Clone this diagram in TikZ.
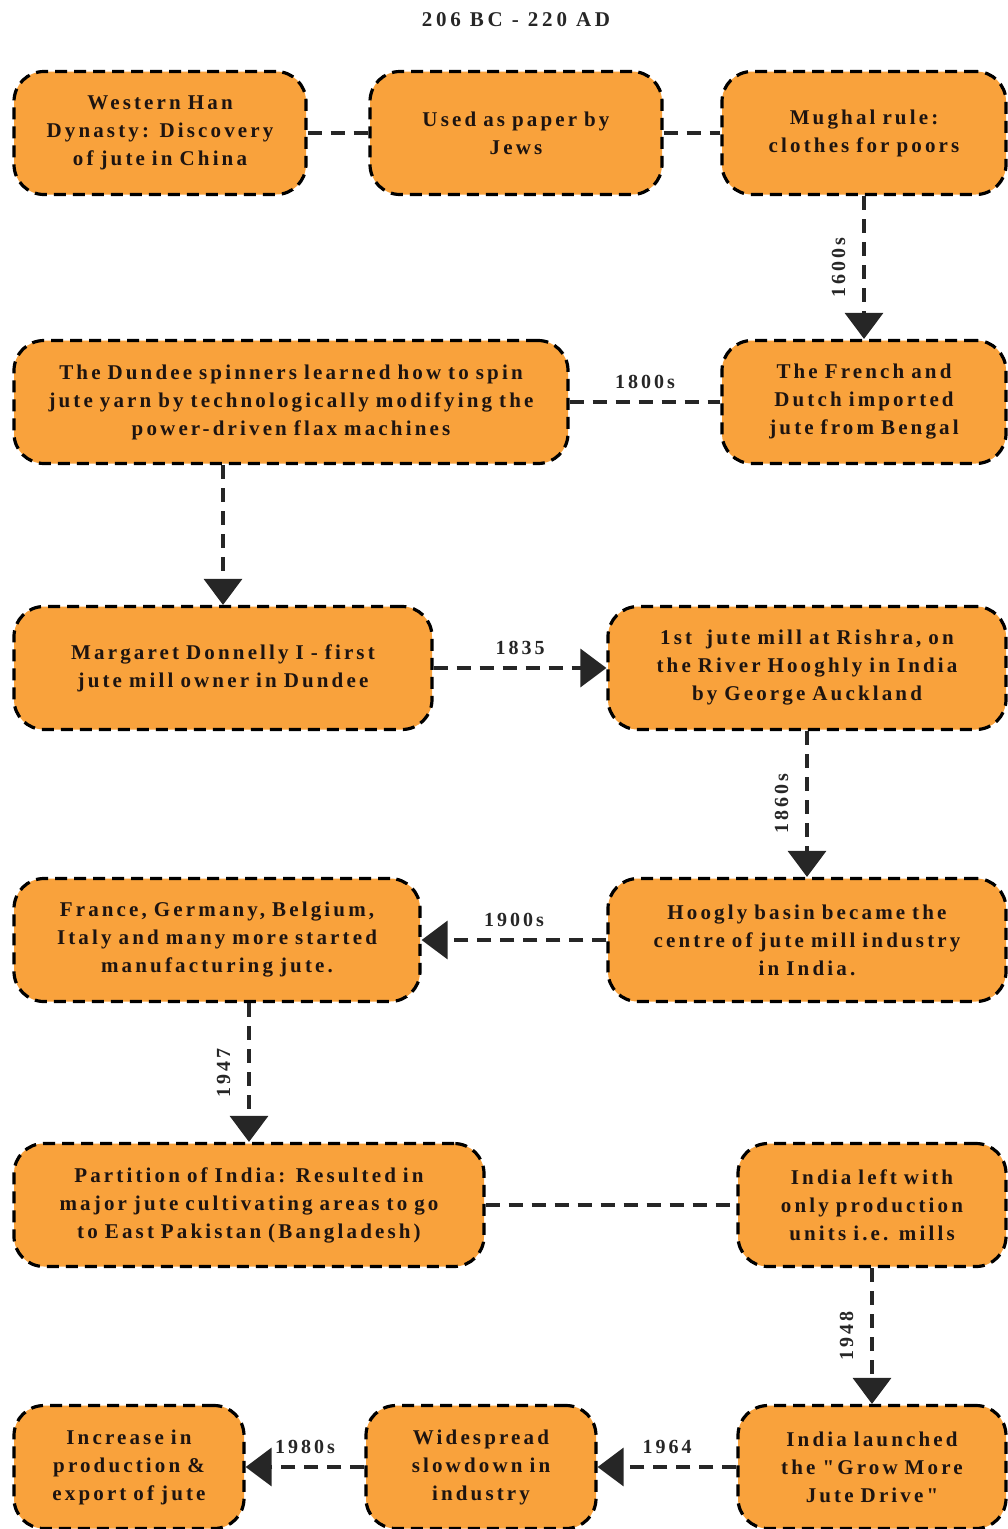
\documentclass[tikz,border=0pt]{standalone}
\usepackage{fontspec}
\setmainfont{Liberation Serif}
\newfontfamily\boxfont{Liberation Serif}[LetterSpace=15]
\newfontfamily\titlefont{Liberation Serif}[LetterSpace=18]
\usetikzlibrary{arrows.meta}
\definecolor{boxorange}{HTML}{F9A23C}
\definecolor{txt}{HTML}{1E1410}
\tikzset{
  evbox/.style={draw=black, fill=boxorange, line width=3.2pt, dash pattern=on 12pt off 7pt,
    rounded corners=30pt, minimum height=123pt, inner sep=0pt, align=center,
    text=txt, font=\boxfont\bfseries\fontsize{21pt}{28pt}\selectfont},
  link/.style={draw=black!85, line width=3.5pt, dash pattern=on 14pt off 9pt},
  arr/.style={link, -{Triangle[width=38pt,length=26pt]}},
  lab/.style={font=\boxfont\bfseries\fontsize{20pt}{22pt}\selectfont, text=black!85, inner sep=2pt}
}
\begin{document}
\begin{tikzpicture}[x=1pt,y=1pt]
\useasboundingbox (0,0) rectangle (1008,-1529);
\node[font=\titlefont\bfseries\fontsize{21pt}{22pt}\selectfont, text=black!85] (title) at (516,-20) {206 BC - 220 AD};

\node[evbox, minimum width=292pt, text width=270pt] (n1) at (160,-133) {Western Han\\Dynasty: Discovery\\of jute in China};
\node[evbox, minimum width=292pt, text width=270pt] (n2) at (516,-133) {Used as paper by\\Jews};
\node[evbox, minimum width=284pt, text width=270pt] (n3) at (864,-133) {Mughal rule:\\clothes for poors};

\node[evbox, minimum width=554pt, text width=540pt] (n4) at (291,-402) {The Dundee spinners learned how to spin\\jute yarn by technologically modifying the\\power-driven flax machines};
\node[evbox, minimum width=284pt, text width=270pt] (n5) at (864,-402) {The French and\\Dutch imported\\jute from Bengal};

\node[evbox, minimum width=418pt, text width=400pt] (n6) at (223,-668) {Margaret Donnelly I - first\\jute mill owner in Dundee};
\node[evbox, minimum width=398pt, text width=390pt] (n7) at (807,-668) {1st~ jute mill at Rishra, on\\the River Hooghly in India\\by George Auckland};

\node[evbox, minimum width=406pt, text width=395pt] (n8) at (217,-940) {France, Germany, Belgium,\\Italy and many more started\\manufacturing jute.};
\node[evbox, minimum width=398pt, text width=390pt] (n9) at (807,-940) {Hoogly basin became the\\centre of jute mill industry\\in India.};

\node[evbox, minimum width=470pt, text width=460pt] (n10) at (249,-1205) {Partition of India: Resulted in\\major jute cultivating areas to go\\to East Pakistan (Bangladesh)};
\node[evbox, minimum width=268pt, text width=260pt] (n11) at (872,-1205) {India left with\\only production\\units i.e. mills};

\node[evbox, minimum width=230pt, text width=225pt] (n12) at (129,-1467) {Increase in\\production \&\\export of jute};
\node[evbox, minimum width=230pt, text width=225pt] (n13) at (481,-1467) {Widespread\\slowdown in\\industry};
\node[evbox, minimum width=268pt, text width=260pt] (n14) at (872,-1467) {India launched\\the "Grow More\\Jute Drive"};

\draw[link] (n1.east) -- (n2.west);
\draw[link] (n2.east) -- (n3.west);
\draw[arr] (n3.south) -- node[lab, rotate=90, above=15pt] {1600s} (n5.north);
\draw[link] (n4.east) -- node[lab, above=10pt] {1800s} (n5.west);
\draw[arr] (n6.north |- n4.south) -- (n6.north);
\draw[arr] (n6.east) -- node[lab, above=10pt] {1835} (n7.west);
\draw[arr] (n7.south) -- node[lab, rotate=90, above=15pt] {1860s} (n9.north);
\draw[arr] (n9.west) -- node[lab, above=10pt] {1900s} (n8.east);
\draw[arr] (n10.north |- n8.south) -- node[lab, rotate=90, above=15pt] {1947} (n10.north);
\draw[link] (n10.east) -- (n11.west);
\draw[arr] (n11.south) -- node[lab, rotate=90, above=15pt] {1948} (n14.north);
\draw[arr] (n14.west) -- node[lab, above=10pt] {1964} (n13.east);
\draw[arr] (n13.west) -- node[lab, above=10pt] {1980s} (n12.east);
\end{tikzpicture}
\end{document}
